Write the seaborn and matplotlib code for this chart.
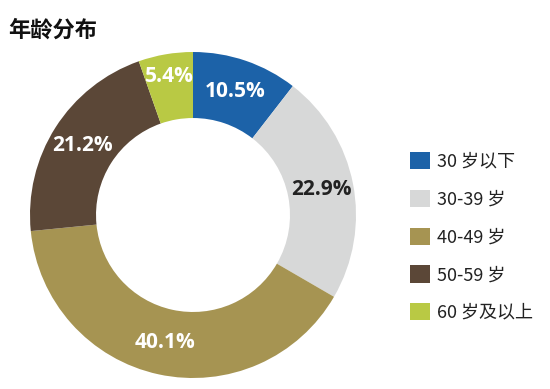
import numpy as np
import matplotlib
matplotlib.use("Agg")
import matplotlib.pyplot as plt
import seaborn as sns
from matplotlib.patches import Patch

# ── data ──
title = "年龄分布"
groups = ["30 岁以下", "30-39 岁", "40-49 岁", "50-59 岁", "60 岁及以上"]
shares = [10.5, 22.9, 40.1, 21.2, 5.4]
colors = ["#1c62a8", "#d7d8d8", "#a69452", "#5b4737", "#b9c944"]
label_colors = ["white", "#222222", "white", "white", "white"]

sns.set_theme(style="white")
plt.rcParams["font.family"] = ["Noto Sans CJK SC", "DejaVu Sans"]

fig = plt.figure(figsize=(5.5, 3.89), dpi=100)
W, H = 550, 389
cx, cy, r = 193, 215, 163
ax = fig.add_axes([(cx - r) / W, (H - cy - r) / H, 2 * r / W, 2 * r / H])

wedges, _ = ax.pie(shares, colors=colors, startangle=90, counterclock=False,
                   radius=1, wedgeprops=dict(width=0.405, edgecolor="none"))
ax.set_xlim(-1, 1)
ax.set_ylim(-1, 1)
ax.set_aspect("equal")
ax.axis("off")

# percent labels in the middle of the ring
for w, v, c in zip(wedges, shares, label_colors):
    mid = np.deg2rad((w.theta1 + w.theta2) / 2)
    d = 0.8 if v > 6 else 0.86
    ax.text(d * np.cos(mid), d * np.sin(mid), f"{v}%", ha="center", va="center",
            color=c, fontsize=15, fontweight="bold",
            family=["Open Sans", "DejaVu Sans"])

fig.text(8 / W, 1 - 30 / H, title, ha="left", va="center",
         fontsize=16, fontweight="bold", color="#111111")

handles = [Patch(facecolor=c, edgecolor="none") for c in colors]
fig.legend(handles, groups, loc="center left", bbox_to_anchor=(403 / W, 1 - 237 / H),
           frameon=False, fontsize=13, handlelength=1.1, handleheight=1.1,
           handletextpad=0.4, labelspacing=1.05, borderaxespad=0,
           labelcolor="#222222")

fig.savefig("out.png", dpi=100)
